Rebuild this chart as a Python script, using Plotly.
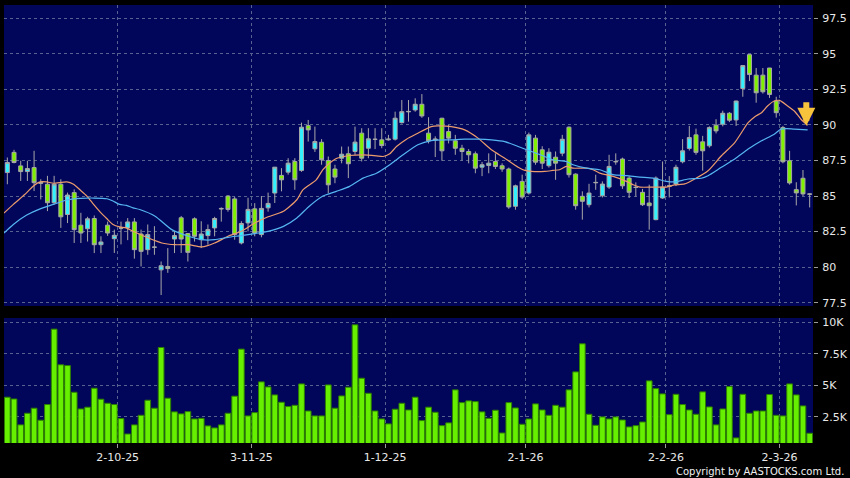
import plotly.graph_objects as go

# ---------------- data ----------------
opens = [86.65, 88.07, 87.12, 86.72, 87.00, 85.95, 85.83, 84.53, 85.83, 83.70,
         85.24, 82.95, 82.70, 83.42, 81.58, 82.95, 82.00, 82.76, 82.76, 83.18,
         82.33, 81.23, 81.42, 79.81, 80.05, 81.98, 83.47, 82.36, 83.40, 81.93,
         82.22, 82.76, 84.13, 85.00, 84.80, 81.70, 83.11, 84.10, 82.29, 84.17,
         85.21, 86.45, 86.68, 87.43, 86.80, 89.95, 88.32, 88.78, 87.50, 86.90,
         87.66, 87.97, 88.13, 89.42, 88.36, 89.00, 88.95, 88.95, 89.00, 90.16,
         90.95, 91.05, 91.45, 89.42, 88.93, 90.47, 89.53, 88.88, 88.36, 88.13,
         87.97, 87.03, 87.15, 87.43, 87.13, 86.90, 84.28, 86.03, 85.21, 89.07,
         88.25, 87.13, 87.73, 88.01, 89.84, 86.54, 84.98, 84.39, 85.96, 85.02,
         85.63, 87.43, 87.60, 86.26, 85.62, 85.26, 84.51, 83.34, 84.86, 85.68,
         85.85, 87.41, 88.35, 89.30, 88.81, 88.53, 89.98, 90.05, 90.82, 90.35,
         92.56, 94.94, 93.50, 93.50, 94.00, 91.68, 89.81, 87.48, 85.45, 86.25,
         85.15]
highs = [87.71, 88.25, 87.48, 87.48, 88.18, 86.18, 86.42, 86.42, 86.18, 85.24,
         85.47, 83.82, 83.54, 83.63, 82.17, 83.20, 82.64, 83.20, 83.45, 83.45,
         82.64, 83.00, 82.88, 80.40, 81.34, 82.52, 83.60, 82.40, 83.50, 83.23,
         83.00, 83.54, 84.20, 85.07, 84.95, 83.23, 84.88, 84.50, 85.00, 85.24,
         87.03, 86.96, 87.66, 87.66, 90.16, 90.35, 89.88, 89.00, 87.78, 87.20,
         88.48, 88.48, 89.88, 89.77, 89.77, 89.77, 89.77, 89.30, 90.93, 91.75,
         91.75, 91.87, 92.17, 90.54, 89.20, 90.50, 90.00, 89.30, 88.60, 88.30,
         88.13, 87.40, 88.00, 88.00, 87.30, 87.00, 85.80, 86.50, 89.46, 89.30,
         88.50, 88.36, 88.13, 89.30, 89.90, 86.60, 85.33, 85.86, 86.50, 86.03,
         87.90, 88.00, 87.70, 86.40, 85.96, 85.50, 85.80, 86.38, 87.43, 86.40,
         87.20, 89.00, 89.93, 89.74, 89.23, 89.90, 90.40, 91.00, 90.90, 91.70,
         94.20, 94.94, 94.00, 94.00, 94.00, 91.98, 89.93, 88.18, 85.97, 86.83,
         85.20]
lows = [85.83, 87.30, 86.06, 86.06, 85.35, 84.76, 83.94, 84.40, 82.76, 83.10,
        81.70, 81.70, 81.80, 80.99, 80.99, 82.20, 81.00, 81.60, 81.90, 80.60,
        80.05, 80.87, 80.87, 78.04, 79.60, 80.99, 81.00, 80.40, 81.80, 81.34,
        81.58, 82.17, 83.20, 83.90, 81.93, 81.60, 82.52, 82.17, 82.10, 83.90,
        84.51, 85.33, 86.50, 85.44, 86.70, 88.83, 88.10, 87.20, 85.20, 85.90,
        87.30, 86.26, 87.90, 87.43, 87.66, 88.30, 88.36, 88.90, 88.90, 90.10,
        90.23, 90.93, 90.50, 88.70, 87.74, 87.48, 88.70, 87.90, 87.50, 87.30,
        86.60, 86.40, 86.60, 86.90, 86.70, 84.10, 84.04, 84.80, 85.10, 87.20,
        86.90, 87.00, 86.14, 87.80, 86.30, 84.04, 83.34, 84.20, 85.44, 84.90,
        85.50, 87.20, 85.50, 84.86, 84.98, 84.30, 82.64, 83.30, 84.80, 84.90,
        85.70, 87.30, 88.20, 87.90, 86.78, 88.40, 89.40, 89.90, 90.20, 89.93,
        91.98, 93.08, 91.56, 92.20, 91.90, 90.51, 87.30, 85.80, 84.34, 85.00,
        84.20]
closes = [87.36, 87.36, 86.72, 86.93, 85.94, 85.90, 84.53, 85.83, 83.54, 85.07,
          82.64, 82.40, 83.40, 81.58, 81.77, 82.40, 82.24, 82.74, 83.18, 81.23,
          81.11, 82.29, 81.40, 80.10, 79.90, 82.22, 81.98, 81.04, 82.17, 82.33,
          82.64, 83.42, 84.10, 84.06, 82.29, 83.07, 84.06, 82.40, 84.13, 84.48,
          87.03, 86.14, 87.31, 86.14, 89.84, 89.65, 88.83, 87.55, 85.79, 86.33,
          87.94, 87.27, 88.79, 87.66, 89.02, 88.98, 88.55, 89.00, 90.47, 90.93,
          90.93, 91.45, 90.63, 88.88, 89.00, 88.18, 89.07, 88.36, 88.13, 87.90,
          86.96, 87.20, 87.31, 87.08, 86.90, 84.23, 85.72, 84.93, 89.30, 87.38,
          87.31, 88.08, 87.31, 88.99, 86.50, 84.32, 84.63, 85.21, 85.94, 85.84,
          87.08, 87.41, 85.72, 85.26, 85.60, 84.39, 84.32, 86.26, 85.63, 85.72,
          87.02, 88.18, 89.11, 88.07, 88.18, 89.81, 89.58, 90.82, 90.33, 91.68,
          94.17, 93.54, 92.26, 92.33, 92.14, 90.86, 87.41, 85.92, 85.22, 85.15,
          85.13]
volume_k = [4.06, 3.92, 1.87, 2.79, 3.19, 2.24, 3.48, 9.44, 6.62, 6.56,
            4.45, 3.13, 3.27, 4.77, 3.90, 3.58, 3.48, 2.37, 1.15, 1.87,
            2.63, 3.82, 3.19, 7.99, 3.98, 2.90, 2.74, 2.92, 2.34, 2.39,
            1.79, 1.63, 1.87, 2.79, 4.14, 7.86, 2.58, 2.84, 5.27, 4.87,
            4.24, 3.66, 3.32, 3.42, 5.11, 2.97, 2.58, 2.58, 5.03, 3.19,
            4.16, 4.85, 9.78, 5.56, 4.37, 2.97, 2.34, 1.95, 3.11, 3.58,
            3.05, 4.06, 2.21, 3.27, 2.87, 1.81, 2.03, 4.64, 3.63, 3.77,
            3.71, 2.90, 2.39, 3.03, 1.23, 3.63, 3.21, 1.92, 2.34, 3.53,
            3.05, 2.63, 3.42, 3.27, 4.64, 6.06, 8.28, 2.71, 1.84, 2.50,
            2.34, 2.50, 2.26, 1.71, 1.81, 2.10, 5.35, 4.74, 4.32, 2.68,
            4.29, 3.48, 3.05, 2.71, 4.48, 3.29, 1.87, 3.13, 4.90, 0.84,
            4.29, 2.79, 2.97, 2.97, 4.27, 2.63, 2.58, 5.11, 4.24, 3.37,
            1.21]
bar_index = list(range(len(closes)))

ma_fast_x = [-0.5, 0.9, 2.9, 3.9, 4.9, 5.9, 6.9, 8.9, 9.9, 10.9, 11.9, 12.9, 13.9, 14.9,
             15.8, 16.8, 17.8, 18.8, 21.1, 23.1, 25.1, 27.1, 29.1, 31.0, 33.0, 35.0,
             37.0, 39.0, 41.3, 43.3, 44.2, 46.2, 47.2, 48.2, 49.2, 51.2, 53.2, 55.2,
             56.2, 57.2, 58.2, 59.7, 61.4, 63.4, 64.4, 66.4, 68.4, 70.4, 72.4, 74.4,
             76.4, 77.4, 78.4, 80.4, 81.6, 82.6, 83.6, 84.6, 86.6, 87.6, 88.6, 90.6,
             92.6, 93.6, 94.6, 96.6, 98.6, 99.8, 101.3, 102.8, 104.8, 106.8, 108.8,
             110.8, 111.8, 112.8, 113.7, 114.7, 115.5, 116.7, 117.7, 118.7, 119.7]
ma_fast = [83.8, 84.41, 85.24, 85.71, 86.0, 85.99, 85.9, 86.0, 85.83, 85.42, 85.0, 84.41,
           83.87, 83.4, 83.0, 82.83, 82.76, 82.52, 82.05, 81.7, 81.58, 81.58, 81.42,
           81.7, 82.17, 82.52, 83.1, 83.54, 83.93, 84.74, 85.44, 86.14, 86.85, 87.31,
           87.64, 87.85, 87.9, 87.83, 87.78, 87.97, 88.48, 89.0, 89.42, 89.88, 89.93,
           89.88, 89.65, 89.07, 88.25, 87.66, 87.03, 86.8, 86.73, 86.73, 86.8, 86.85,
           87.08, 86.96, 86.96, 86.85, 86.61, 86.38, 86.03, 85.79, 85.63, 85.63, 85.63,
           85.78, 85.85, 86.2, 86.78, 87.83, 88.76, 90.16, 90.58, 90.86, 91.33, 91.68,
           91.72, 91.33, 90.98, 90.4, 89.98]
ma_slow_x = [-0.5, 0.9, 2.9, 4.9, 6.9, 8.9, 10.9, 12.9, 14.9, 15.8, 16.8, 17.8, 18.8,
             19.8, 22.1, 24.6, 27.1, 29.1, 31.0, 33.0, 35.0, 37.0, 39.0, 41.3, 43.3,
             45.2, 47.2, 49.2, 51.2, 53.2, 55.2, 57.2, 59.2, 61.4, 63.4, 66.4, 68.4,
             70.4, 72.4, 74.4, 76.4, 78.4, 80.0, 81.6, 83.6, 84.6, 86.6, 88.6, 90.6,
             92.6, 94.6, 96.6, 98.6, 100.0, 101.8, 103.8, 104.8, 106.8, 108.8, 110.8,
             112.8, 114.7, 115.7, 116.5, 117.7, 119.7]
ma_slow = [82.4, 83.0, 83.66, 84.1, 84.41, 84.72, 84.83, 84.86, 84.81, 84.65, 84.41,
           84.34, 84.17, 84.05, 83.58, 82.64, 82.17, 81.93, 81.93, 82.1, 82.22, 82.36,
           82.52, 82.87, 83.46, 84.3, 85.0, 85.33, 85.68, 86.26, 86.6, 87.2, 87.9, 88.6,
           88.9, 88.95, 89.0, 89.0, 88.95, 88.83, 88.48, 88.13, 87.85, 87.55, 87.43,
           87.2, 86.96, 86.85, 86.5, 86.43, 86.33, 86.26, 86.03, 86.0, 86.2, 86.25,
           86.43, 87.02, 87.6, 88.3, 88.88, 89.35, 89.7, 89.74, 89.7, 89.65]

date_tick_pos = [16.5, 36.5, 56.5, 77.5, 98.5, 115.5]
date_tick_text = ["2-10-25", "3-11-25", "1-12-25", "2-1-26", "2-2-26", "2-3-26"]
price_ticks = [77.5, 80, 82.5, 85, 87.5, 90, 92.5, 95, 97.5]
vol_ticks = [2.5, 5, 7.5, 10]
vol_tick_text = ["2.5K", "5K", "7.5K", "10K"]
signal_index = 119.5
signal_price = 89.95

# ---------------- style ----------------
NAVY = "#02065a"
GRID = "#56638f"
CYAN = "#33f0ff"
GREEN = "#7ff000"
WICK = "#a8a8a8"
ORANGE = "#ec9c6c"
SKY = "#55b6f2"
VOL = "#66f000"
VOL_EDGE = "#2d7f00"
TXT = "#e8e8e8"
FONT = "DejaVu Sans"

fig = go.Figure()
fig.add_trace(go.Candlestick(
    x=bar_index, open=opens, high=highs, low=lows, close=closes,
    xaxis="x", yaxis="y", whiskerwidth=0,
    increasing=dict(fillcolor=CYAN, line=dict(color=WICK, width=1)),
    decreasing=dict(fillcolor=GREEN, line=dict(color=WICK, width=1)),
    hoverinfo="skip"))
fig.add_trace(go.Scatter(x=ma_fast_x, y=ma_fast, mode="lines", xaxis="x", yaxis="y",
                         line=dict(color=ORANGE, width=1.2, shape="spline", smoothing=0.6),
                         hoverinfo="skip"))
fig.add_trace(go.Scatter(x=ma_slow_x, y=ma_slow, mode="lines", xaxis="x", yaxis="y",
                         line=dict(color=SKY, width=1.2, shape="spline", smoothing=0.6),
                         hoverinfo="skip"))
fig.add_trace(go.Bar(x=bar_index, y=volume_k, xaxis="x2", yaxis="y2", width=0.85,
                     marker=dict(color=VOL, line=dict(color=VOL_EDGE, width=1)),
                     hoverinfo="skip"))

axis_common = dict(showgrid=True, gridcolor=GRID, griddash="3px,3px", gridwidth=1,
                   zeroline=False, showline=False, automargin=False)
ytick_common = dict(ticks="outside", ticklen=4, tickcolor="#9a9a9a",
                    ticklabelstandoff=2,
                    tickfont=dict(family=FONT, size=11, color=TXT))

fig.update_layout(
    width=850, height=478,
    margin=dict(l=4, r=37, t=5, b=35, autoexpand=False),
    paper_bgcolor="black", plot_bgcolor=NAVY,
    showlegend=False, boxgap=0.15, bargap=0.15,
    font=dict(family=FONT, size=11, color=TXT),
    xaxis=dict(domain=[0, 1], range=[-0.5, 120.5], anchor="y",
               tickvals=date_tick_pos, showticklabels=False, ticks="",
               rangeslider=dict(visible=False), **axis_common),
    yaxis=dict(domain=[0.3128, 1], range=[77.27, 98.43], side="right", anchor="x",
               tickvals=price_ticks, **ytick_common, **axis_common),
    xaxis2=dict(domain=[0, 1], range=[-0.5, 120.5], anchor="y2",
                tickvals=date_tick_pos, ticktext=date_tick_text,
                ticks="outside", ticklen=4, tickcolor="#9a9a9a",
                tickfont=dict(family=FONT, size=11, color=TXT), **axis_common),
    yaxis2=dict(domain=[0, 0.2854], range=[0.44, 10.32], side="right", anchor="x2",
                tickvals=vol_ticks, ticktext=vol_tick_text,
                **ytick_common, **axis_common),
    annotations=[
        dict(x=signal_index, y=signal_price, xref="x", yref="y", text="",
             showarrow=True, arrowhead=2, arrowsize=0.6, arrowwidth=6,
             arrowcolor="#f7c23c", ax=0, ay=-25),
        dict(x=1.0408, y=-0.064, xref="paper", yref="paper",
             text="Copyright by AASTOCKS.com Ltd.", showarrow=False,
             xanchor="right", yanchor="middle",
             font=dict(family=FONT, size=10, color="#f0f0f0")),
    ],
)

page_fix = ("document.body.style.margin='0px';"
            "document.body.style.padding='0px';"
            "document.body.style.background='black';")
fig.write_html("out.html", post_script=page_fix,
               config={"displayModeBar": False, "staticPlot": True})
